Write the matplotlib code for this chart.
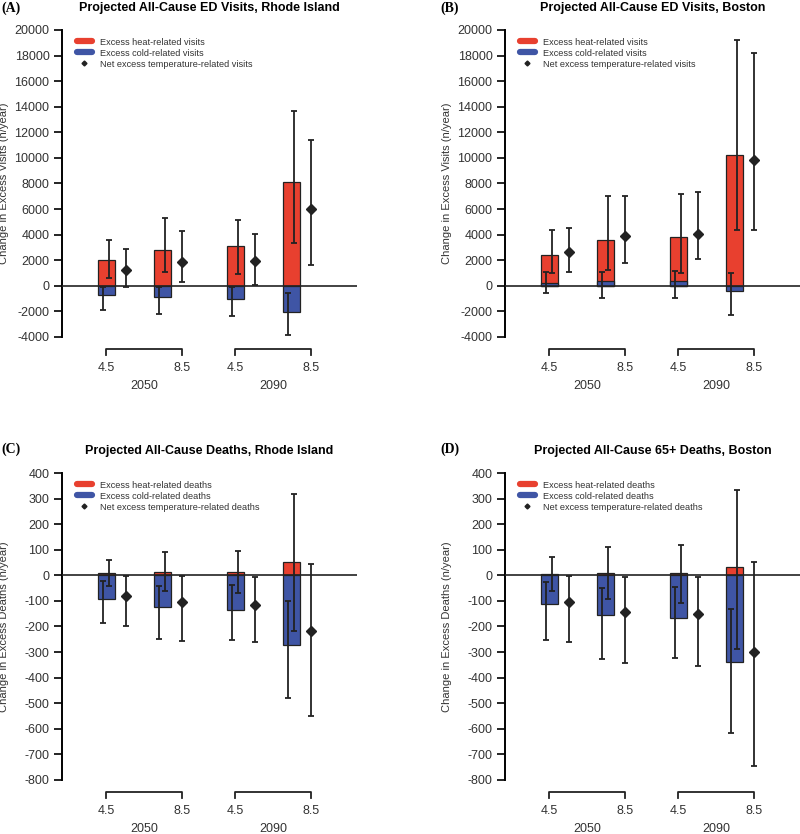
import numpy as np
import matplotlib.pyplot as plt
from matplotlib.lines import Line2D

plt.rcParams['font.family'] = ['Liberation Sans', 'DejaVu Sans']
plt.rcParams['axes.unicode_minus'] = False

RED = '#E8402F'
BLUE = '#3F55A5'
INK = '#222222'

scenarios = ['4.5', '8.5', '4.5', '8.5']
years = ['2050', '2090']

# bar / diamond positions (bar, then net estimate one step to the right)
bar_x = np.array([0.0, 2.8, 6.45, 9.25])
net_x = bar_x + 1.0

# (A) ED visits, Rhode Island
a_heat = [2000, 2840, 3080, 8130]
a_heat_lo = [650, 1120, 940, 3360]
a_heat_hi = [3600, 5340, 5160, 13700]
a_cold = [-700, -910, -1020, -2060]
a_cold_lo = [-1880, -2220, -2370, -3860]
a_cold_hi = [-60, -120, -80, -570]
a_net = [1250, 1880, 1980, 5990]
a_net_lo = [-100, 290, 80, 1640]
a_net_hi = [2870, 4300, 4090, 11400]

# (B) ED visits, Boston
b_heat = [2420, 3570, 3830, 10220]
b_heat_lo = [1000, 1220, 1040, 4330]
b_heat_hi = [4330, 7060, 7170, 19230]
b_cold = [250, 340, 340, -390]
b_cold_lo = [-550, -960, -960, -2270]
b_cold_hi = [1050, 1090, 1150, 1040]
b_net = [2680, 3860, 4090, 9820]
b_net_lo = [1120, 1770, 2080, 4330]
b_net_hi = [4560, 7040, 7320, 18240]

# (C) deaths, Rhode Island
c_heat = [9, 14, 13, 51]
c_heat_lo = [-40, -61, -70, -216]
c_heat_hi = [59, 93, 94, 318]
c_cold = [-91, -124, -136, -274]
c_cold_lo = [-186, -249, -254, -481]
c_cold_hi = [-23, -40, -36, -102]
c_net = [-80, -106, -117, -218]
c_net_lo = [-197, -255, -261, -551]
c_net_hi = [-3, -3, -6, 43]

# (D) 65+ deaths, Boston
d_heat = [7, 10, 9, 34]
d_heat_lo = [-63, -91, -107, -287]
d_heat_hi = [73, 111, 119, 334]
d_cold = [-111, -156, -168, -340]
d_cold_lo = [-253, -326, -323, -618]
d_cold_hi = [-27, -51, -44, -130]
d_net = [-106, -145, -152, -301]
d_net_lo = [-261, -343, -353, -744]
d_net_hi = [-4, -8, -7, 53]

W, H = 800, 834
fig = plt.figure(figsize=(W / 100, H / 100), dpi=100)


def px_axes(left, top, right, bottom):
    return fig.add_axes([left / W, 1 - bottom / H, (right - left) / W, (bottom - top) / H])


def yerr(v, lo, hi):
    v, lo, hi = np.array(v), np.array(lo), np.array(hi)
    return [v - lo, hi - v]


def panel(ax, title, ylabel, yticks, kind,
          heat, heat_lo, heat_hi, cold, cold_lo, cold_hi, net, net_lo, net_hi):
    ax.bar(bar_x, heat, 0.85, color=RED, edgecolor=INK, linewidth=0.9, zorder=2)
    ax.bar(bar_x, cold, 0.85, color=BLUE, edgecolor=INK, linewidth=0.9, zorder=2)
    ax.axhline(0, color=INK, lw=1.2, zorder=3)
    eb = dict(fmt='none', ecolor=INK, elinewidth=1.3, capsize=2, capthick=1.3, zorder=4)
    ax.errorbar(bar_x + 0.16, heat, yerr=yerr(heat, heat_lo, heat_hi), **eb)
    ax.errorbar(bar_x - 0.16, cold, yerr=yerr(cold, cold_lo, cold_hi), **eb)
    ax.errorbar(net_x, net, yerr=yerr(net, net_lo, net_hi), fmt='D', color=INK,
                ms=4.6, elinewidth=1.3, capsize=2, capthick=1.3, zorder=4)

    ax.set_xlim(-2.2, 12.55)
    ax.set_ylim(yticks[0], yticks[-1])
    ax.set_yticks(yticks)
    ax.set_yticklabels([str(int(t)) for t in yticks])
    ax.tick_params(axis='y', length=6, width=1.2, labelsize=9, labelcolor='#333333', pad=3)
    ax.set_xticks([])
    for s in ['top', 'right', 'bottom']:
        ax.spines[s].set_visible(False)
    ax.spines['left'].set_linewidth(1.4)
    ax.patch.set_alpha(0)

    ax.set_ylabel(ylabel, fontsize=8, color='#333333')
    ax.yaxis.set_label_coords(-53 / 295, 0.5)
    ax.set_title(title, fontsize=9, fontweight='bold', pad=14)

    # scenario brackets and labels under the axis
    tr = ax.get_xaxis_transform()
    hgt = 307.0
    for g in range(2):
        x0, x1 = bar_x[2 * g], net_x[2 * g + 1]
        ax.plot([x0, x0, x1, x1], [-18 / hgt, -12 / hgt, -12 / hgt, -18 / hgt],
                transform=tr, color=INK, lw=1.3, clip_on=False)
        ax.text(x0, -31 / hgt, scenarios[2 * g], transform=tr, ha='center', va='center',
                fontsize=9, color='#333333')
        ax.text(x1, -31 / hgt, scenarios[2 * g + 1], transform=tr, ha='center', va='center',
                fontsize=9, color='#333333')
        ax.text((x0 + x1) / 2, -49 / hgt, years[g], transform=tr, ha='center', va='center',
                fontsize=9, color='#333333')

    handles = [Line2D([], [], color=RED, lw=4.5, solid_capstyle='round'),
               Line2D([], [], color=BLUE, lw=4.5, solid_capstyle='round'),
               Line2D([], [], color=INK, marker='D', ms=2.5, lw=0)]
    labels = ['Excess heat-related ' + kind, 'Excess cold-related ' + kind,
              'Net excess temperature-related ' + kind]
    leg = ax.legend(handles, labels, loc='upper left', bbox_to_anchor=(10 / 295, 1 - 3 / 307),
                    frameon=False, borderpad=0, handlelength=1.7, handletextpad=0.9,
                    labelspacing=0.22, fontsize=6.6)
    for t in leg.get_texts():
        t.set_color('#333333')


visit_ticks = np.arange(-4000, 20001, 2000)
death_ticks = np.arange(-800, 401, 100)

axA = px_axes(62, 30, 357, 337)
panel(axA, 'Projected All-Cause ED Visits, Rhode Island', 'Change in Excess Visits (n/year)',
      visit_ticks, 'visits', a_heat, a_heat_lo, a_heat_hi, a_cold, a_cold_lo, a_cold_hi,
      a_net, a_net_lo, a_net_hi)
axB = px_axes(505, 30, 800, 337)
panel(axB, 'Projected All-Cause ED Visits, Boston', 'Change in Excess Visits (n/year)',
      visit_ticks, 'visits', b_heat, b_heat_lo, b_heat_hi, b_cold, b_cold_lo, b_cold_hi,
      b_net, b_net_lo, b_net_hi)
axC = px_axes(62, 473, 357, 780)
panel(axC, 'Projected All-Cause Deaths, Rhode Island', 'Change in Excess Deaths (n/year)',
      death_ticks, 'deaths', c_heat, c_heat_lo, c_heat_hi, c_cold, c_cold_lo, c_cold_hi,
      c_net, c_net_lo, c_net_hi)
axD = px_axes(505, 473, 800, 780)
panel(axD, 'Projected All-Cause 65+ Deaths, Boston', 'Change in Excess Deaths (n/year)',
      death_ticks, 'deaths', d_heat, d_heat_lo, d_heat_hi, d_cold, d_cold_lo, d_cold_hi,
      d_net, d_net_lo, d_net_hi)

# panel letters
for letter, x, y in [('(A)', 1, 8), ('(B)', 440, 8), ('(C)', 1, 449), ('(D)', 440, 449)]:
    fig.text(x / W, 1 - y / H, letter, ha='left', va='center', fontsize=10,
             fontweight='bold', family=['Liberation Serif', 'DejaVu Serif'])

fig.savefig('out.png', dpi=100)
